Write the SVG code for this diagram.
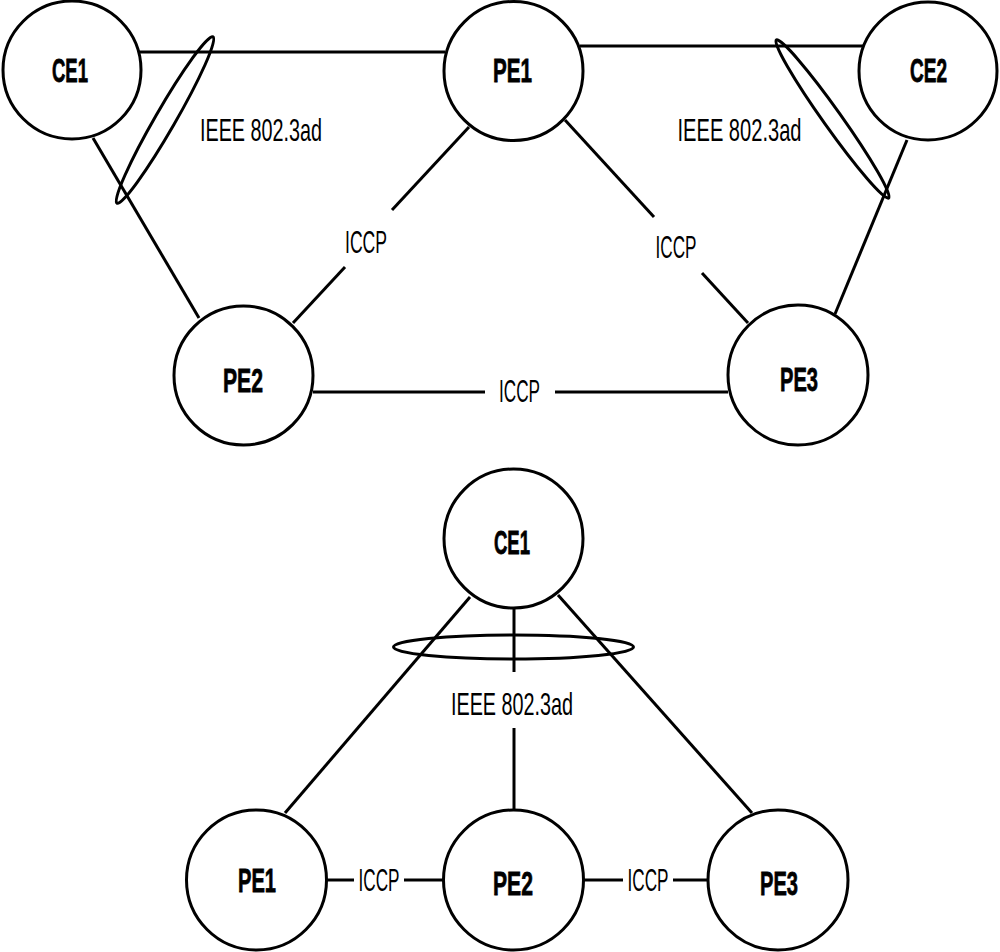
<svg xmlns="http://www.w3.org/2000/svg" width="1000" height="952" viewBox="0 0 1000 952">
<style>
.n{fill:#fff;stroke:#000;stroke-width:3}
.b{font-family:"Liberation Sans",Arial,sans-serif;font-weight:bold;font-size:34px;text-anchor:middle;fill:#000;stroke:#000;stroke-width:0.8}
.l{font-family:"Liberation Sans",Arial,sans-serif;font-size:32px;text-anchor:middle;fill:#000}
.c line{stroke:#000;stroke-width:3}
.e{fill:none;stroke:#000;stroke-width:3}
</style>
<rect width="1000" height="952" fill="#fff"/>
<g class="c" id="connectors">
<line x1="139" y1="52" x2="445" y2="52"/>
<line x1="580" y1="46" x2="863" y2="46"/>
<line x1="93" y1="138" x2="199" y2="318"/>
<line x1="469" y1="127" x2="392" y2="210"/>
<line x1="345" y1="267" x2="293" y2="323"/>
<line x1="565" y1="120" x2="654" y2="217"/>
<line x1="702" y1="273" x2="748" y2="323"/>
<line x1="907" y1="140" x2="835" y2="314"/>
<line x1="313" y1="392" x2="485" y2="392"/>
<line x1="555" y1="392" x2="728" y2="392"/>
<line x1="470" y1="597" x2="285" y2="813"/>
<line x1="558" y1="595" x2="752" y2="813"/>
<line x1="514" y1="608" x2="514" y2="672"/>
<line x1="514" y1="728" x2="514" y2="810"/>
<line x1="327" y1="880" x2="354" y2="880"/>
<line x1="404" y1="880" x2="443" y2="880"/>
<line x1="584" y1="880" x2="623" y2="880"/>
<line x1="673" y1="880" x2="708" y2="880"/>
<ellipse class="e" cx="165" cy="120" rx="96" ry="10" transform="rotate(-60 165 120)"/>
<ellipse class="e" cx="832.5" cy="119" rx="97" ry="9" transform="rotate(54.6 832.5 119)"/>
<ellipse class="e" cx="513.5" cy="647" rx="120" ry="12"/>
<text class="l" x="261" y="141" textLength="122" lengthAdjust="spacingAndGlyphs">IEEE 802.3ad</text>
<text class="l" x="739.5" y="141" textLength="124" lengthAdjust="spacingAndGlyphs">IEEE 802.3ad</text>
<text class="l" x="512" y="715" textLength="122" lengthAdjust="spacingAndGlyphs">IEEE 802.3ad</text>
<text class="l" x="366" y="253" textLength="42" lengthAdjust="spacingAndGlyphs">ICCP</text>
<text class="l" x="676" y="258" textLength="41" lengthAdjust="spacingAndGlyphs">ICCP</text>
<text class="l" x="519.5" y="402" textLength="41" lengthAdjust="spacingAndGlyphs">ICCP</text>
<text class="l" x="379" y="891" textLength="41" lengthAdjust="spacingAndGlyphs">ICCP</text>
<text class="l" x="648" y="891" textLength="41" lengthAdjust="spacingAndGlyphs">ICCP</text>
</g>
<g id="top-CE1"><circle class="n" cx="72" cy="70" r="69"/><text class="b" x="70" y="82" textLength="36" lengthAdjust="spacingAndGlyphs">CE1</text></g>
<g id="top-PE1"><circle class="n" cx="513.5" cy="71" r="69.5"/><text class="b" x="512.5" y="82" textLength="39" lengthAdjust="spacingAndGlyphs">PE1</text></g>
<g id="top-CE2"><circle class="n" cx="928" cy="71" r="69"/><text class="b" x="928.5" y="82" textLength="37" lengthAdjust="spacingAndGlyphs">CE2</text></g>
<g id="top-PE2"><circle class="n" cx="243.5" cy="375.5" r="69.5"/><text class="b" x="243" y="392" textLength="40" lengthAdjust="spacingAndGlyphs">PE2</text></g>
<g id="top-PE3"><circle class="n" cx="798" cy="375" r="70"/><text class="b" x="799" y="391" textLength="38" lengthAdjust="spacingAndGlyphs">PE3</text></g>
<g id="bottom-CE1"><circle class="n" cx="513.5" cy="538.5" r="69.5"/><text class="b" x="512" y="554" textLength="36" lengthAdjust="spacingAndGlyphs">CE1</text></g>
<g id="bottom-PE1"><circle class="n" cx="256.5" cy="880" r="70"/><text class="b" x="257" y="892" textLength="38" lengthAdjust="spacingAndGlyphs">PE1</text></g>
<g id="bottom-PE2"><circle class="n" cx="513.5" cy="880" r="70"/><text class="b" x="513" y="895" textLength="40" lengthAdjust="spacingAndGlyphs">PE2</text></g>
<g id="bottom-PE3"><circle class="n" cx="778" cy="880" r="70"/><text class="b" x="779" y="895" textLength="38" lengthAdjust="spacingAndGlyphs">PE3</text></g>
</svg>
